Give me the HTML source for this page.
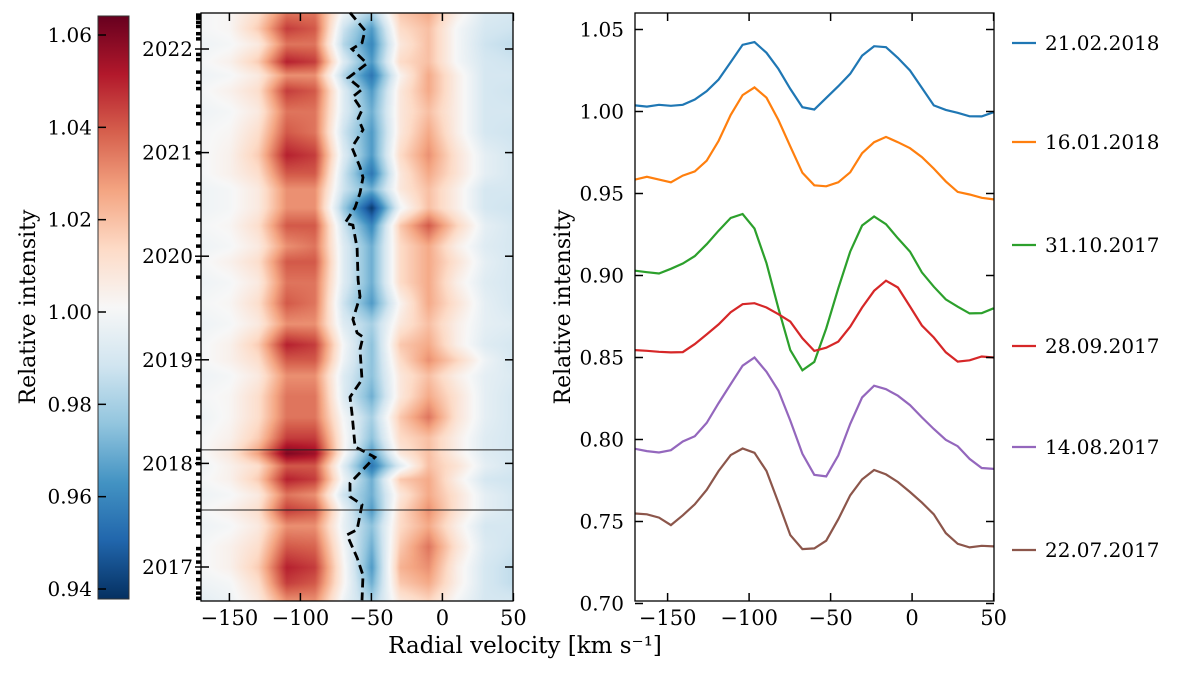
<!DOCTYPE html>
<html><head><meta charset="utf-8"><style>
body{margin:0;background:#fff;}
#wrap{position:relative;width:1200px;height:674px;overflow:hidden;font-family:"DejaVu Serif","Liberation Serif",serif;}
canvas{position:absolute;left:201px;top:13px;}
svg{position:absolute;left:0;top:0;}
text{font-family:"DejaVu Serif","Liberation Serif",serif;fill:#000;}
</style></head><body>
<div id="wrap">
<canvas id="heat" width="312" height="588"></canvas>
<svg id="svg" width="1200" height="674">
<defs><linearGradient id="cb" x1="0" y1="1" x2="0" y2="0">
<stop offset="0" stop-color="#053061"/><stop offset="0.1" stop-color="#2166ac"/><stop offset="0.2" stop-color="#4393c3"/><stop offset="0.3" stop-color="#92c5de"/><stop offset="0.4" stop-color="#d1e5f0"/><stop offset="0.5" stop-color="#f7f7f7"/><stop offset="0.6" stop-color="#fddbc7"/><stop offset="0.7" stop-color="#f4a582"/><stop offset="0.8" stop-color="#d6604d"/><stop offset="0.9" stop-color="#b2182b"/><stop offset="1" stop-color="#67001f"/></linearGradient></defs>
<g id="g"></g>
</svg>
</div>
<script>
// ---------- data ----------
const cbTicks=[0.94,0.96,0.98,1.00,1.02,1.04,1.06];
const yearTicks=[2017,2018,2019,2020,2021,2022];
const xTicks=[-150,-100,-50,0,50];
const rTicksY=[0.70,0.75,0.80,0.85,0.90,0.95,1.00,1.05];
const heatVel=[-170,-150,-130,-110,-90,-70,-50,-30,-10,10,30,50];
const heatTimes=[2016.68,2016.85,2017.0,2017.2,2017.4,2017.55,2017.7,2017.85,2017.98,2018.1,2018.25,2018.45,2018.65,2018.85,2019.0,2019.15,2019.35,2019.55,2019.75,2019.95,2020.1,2020.3,2020.47,2020.65,2020.8,2020.98,2021.2,2021.4,2021.6,2021.75,2021.88,2022.05,2022.2,2022.35];
const heatRows=[
[0.995,0.998,1.007,1.03,1.03,0.998,0.98,1.008,1.015,1.0,0.99,0.99],
[0.998,1.0,1.012,1.045,1.04,1.003,0.97,1.018,1.025,1.005,0.99,0.985],
[1.0,1.004,1.017,1.05,1.045,1.003,0.965,1.023,1.03,1.005,0.99,0.985],
[1.0,1.004,1.012,1.04,1.038,1.0,0.97,1.018,1.035,1.01,0.992,0.988],
[0.998,1.0,1.007,1.03,1.03,0.996,0.975,1.013,1.025,1.005,0.99,0.99],
[1.0,1.004,1.012,1.045,1.04,0.998,0.965,1.013,1.03,1.01,0.995,0.99],
[0.998,1.0,1.007,1.035,1.03,0.988,0.97,1.008,1.025,1.01,0.995,0.99],
[1.0,1.004,1.017,1.05,1.045,0.998,0.97,1.018,1.025,1.005,0.99,0.988],
[0.998,1.004,1.012,1.04,1.04,0.993,0.955,0.993,1.02,1.01,0.995,0.99],
[1.0,1.008,1.027,1.06,1.055,1.003,0.965,1.008,1.02,1.005,0.993,0.99],
[1.0,1.004,1.017,1.045,1.045,1.003,0.975,1.013,1.02,1.005,0.993,0.99],
[0.998,1.002,1.012,1.035,1.035,1.0,0.98,1.018,1.035,1.01,0.995,0.99],
[1.0,1.002,1.012,1.035,1.035,0.993,0.97,1.008,1.025,1.01,0.995,0.99],
[0.998,1.0,1.007,1.03,1.03,0.993,0.975,1.008,1.02,1.005,0.995,0.992],
[1.0,1.004,1.012,1.04,1.04,0.998,0.975,1.013,1.03,1.015,0.998,0.99],
[1.0,1.004,1.017,1.05,1.045,1.0,0.975,1.018,1.025,1.005,0.993,0.99],
[0.998,1.0,1.007,1.03,1.03,0.993,0.98,1.008,1.02,1.005,0.995,0.993],
[1.0,1.002,1.012,1.04,1.035,0.988,0.965,1.003,1.025,1.01,0.995,0.99],
[0.998,1.0,1.007,1.035,1.035,0.993,0.97,1.013,1.025,1.005,0.993,0.99],
[1.0,1.004,1.012,1.04,1.04,0.993,0.97,1.013,1.025,1.01,0.995,0.99],
[0.998,1.0,1.007,1.03,1.035,0.993,0.97,1.013,1.025,1.005,0.993,0.99],
[1.0,1.002,1.012,1.04,1.04,0.988,0.96,1.018,1.04,1.015,0.995,0.99],
[0.998,1.0,1.007,1.03,1.03,0.978,0.94,0.998,1.02,1.005,0.99,0.988],
[0.998,1.0,1.007,1.03,1.03,0.988,0.97,1.008,1.02,1.005,0.99,0.99],
[1.0,1.004,1.012,1.04,1.04,0.988,0.955,1.008,1.025,1.01,0.995,0.99],
[1.0,1.004,1.017,1.05,1.045,0.993,0.965,1.013,1.03,1.01,0.995,0.99],
[1.0,1.002,1.012,1.04,1.035,0.988,0.965,1.008,1.025,1.005,0.99,0.988],
[0.998,1.0,1.007,1.035,1.035,0.993,0.97,1.008,1.02,1.005,0.99,0.99],
[1.0,1.004,1.012,1.045,1.04,0.993,0.965,1.008,1.025,1.005,0.99,0.988],
[0.998,1.0,1.007,1.03,1.03,0.983,0.955,1.003,1.025,1.005,0.99,0.99],
[1.0,1.004,1.017,1.05,1.045,0.993,0.965,1.013,1.02,1.0,0.99,0.988],
[0.998,1.0,1.007,1.035,1.035,0.983,0.96,1.008,1.02,1.0,0.988,0.985],
[1.0,1.002,1.017,1.045,1.04,0.988,0.965,1.013,1.02,1.0,0.99,0.988],
[1.0,1.002,1.012,1.035,1.035,0.998,0.98,1.018,1.025,1.005,0.992,0.99]];
const minTimes=[2022.35,2022.18,2022.06,2022.0,2021.86,2021.72,2021.61,2021.54,2021.41,2021.33,2021.22,2021.05,2020.86,2020.76,2020.61,2020.47,2020.32,2020.30,2020.08,2019.77,2019.61,2019.39,2019.26,2019.22,2019.10,2018.81,2018.64,2018.49,2018.16,2018.06,2017.81,2017.68,2017.60,2017.36,2017.31,2017.09,2016.92,2016.68];
const minVel=[-65.1,-54.5,-56.6,-63.7,-53.1,-66.5,-56.6,-63.0,-56.6,-59.4,-55.9,-63.7,-58.0,-55.9,-58.0,-61.5,-68.6,-63.0,-60.1,-59.4,-58.0,-63.0,-60.1,-55.9,-58.0,-56.6,-65.1,-63.7,-61.5,-47.5,-65.1,-65.1,-56.6,-60.1,-67.2,-60.1,-55.9,-56.6];
const obsTimes=[2016.7,2016.75,2016.8,2016.88,2016.95,2017.05,2017.12,2017.18,2017.3,2017.42,2017.48,2017.55,2017.62,2017.7,2017.75,2017.82,2017.9,2018.0,2018.05,2018.13,2018.3,2018.45,2018.6,2018.75,2018.9,2019.05,2019.2,2019.3,2019.45,2019.6,2019.8,2019.95,2020.1,2020.2,2020.35,2020.5,2020.62,2020.7,2020.88,2021.0,2021.1,2021.28,2021.38,2021.45,2021.62,2021.68,2021.78,2021.9,2021.95,2022.1,2022.15,2022.22,2022.26,2022.3,2022.33];
const markTimes=[2018.13,2017.55];
const profVel=[-170,-162.7,-155.3,-148,-140.7,-133.3,-126,-118.7,-111.3,-104,-96.7,-89.3,-82,-74.7,-67.3,-60,-52.7,-45.3,-38,-30.7,-23.3,-16,-8.7,-1.3,6,13.3,20.7,28,35.3,42.7,50];
const dates=["21.02.2018","16.01.2018","31.10.2017","28.09.2017","14.08.2017","22.07.2017"];
const colors=["#1f77b4","#ff7f0e","#2ca02c","#d62728","#9467bd","#8c564b"];
const s0=[1.0037,1.003,1.0041,1.0035,1.0041,1.0073,1.0124,1.0195,1.0301,1.0407,1.0423,1.0358,1.026,1.0138,1.0026,1.0012,1.0083,1.0154,1.023,1.0341,1.0398,1.0392,1.0327,1.025,1.0144,1.0037,1.001,0.9992,0.9971,0.997,0.9996];
const s1=[0.9585,0.9602,0.9585,0.9568,0.9609,0.9635,0.97,0.9821,0.9979,1.01,1.0147,1.0084,0.9948,0.9787,0.9626,0.955,0.9544,0.9568,0.9629,0.9746,0.9813,0.9845,0.9813,0.9776,0.9722,0.9652,0.9574,0.951,0.9494,0.9474,0.9464];
const s2=[0.9029,0.902,0.9012,0.9041,0.9073,0.9118,0.9191,0.9273,0.9351,0.9375,0.9286,0.9075,0.88,0.8545,0.8422,0.8473,0.8677,0.8922,0.9146,0.9305,0.936,0.9313,0.9227,0.9146,0.9019,0.8932,0.8854,0.881,0.8769,0.8771,0.88];
const s3=[0.8545,0.8541,0.8535,0.8531,0.8533,0.8582,0.8641,0.8702,0.8776,0.8825,0.8831,0.8805,0.8764,0.8719,0.8617,0.854,0.856,0.8597,0.8688,0.8805,0.8907,0.8968,0.8927,0.8811,0.8695,0.8622,0.8532,0.8475,0.8483,0.8506,0.85];
const s4=[0.7943,0.7929,0.7921,0.7935,0.7988,0.802,0.8101,0.8222,0.8338,0.845,0.85,0.8413,0.8298,0.8115,0.7913,0.7785,0.7775,0.7903,0.8095,0.8257,0.8328,0.8307,0.8267,0.821,0.8135,0.8064,0.7998,0.7959,0.7882,0.7826,0.7821];
const s5=[0.7549,0.7544,0.7524,0.7478,0.7538,0.7605,0.7693,0.7808,0.7905,0.7945,0.7919,0.7808,0.7615,0.7417,0.7332,0.7336,0.7383,0.7514,0.766,0.7757,0.7814,0.7787,0.7741,0.768,0.7615,0.7544,0.7429,0.7364,0.7342,0.7352,0.7348];

// ---------- scales ----------
const xL=v=>201+(v+170)*1.42;
const tY=t=>49+(2022-t)*103.6;
const xR=v=>635+(v+170)*1.63;
const yR=s=>111.5+(1-s)*1640;
const cbY=v=>35+(1.06-v)*(554/0.12);
const VMIN=0.938,VMAX=1.064;
const NS="http://www.w3.org/2000/svg";
const g=document.getElementById('g');
function el(tag,attrs,txt){const e=document.createElementNS(NS,tag);for(const k in attrs)e.setAttribute(k,attrs[k]);if(txt!==undefined)e.textContent=txt;g.appendChild(e);return e;}

// ---------- heatmap ----------
const stops=[[5,48,97],[33,102,172],[67,147,195],[146,197,222],[209,229,240],[247,247,247],[253,219,199],[244,165,130],[214,96,77],[178,24,43],[103,0,31]];
function cmap(v){let t=(v-VMIN)/(VMAX-VMIN);t=Math.max(0,Math.min(1,t))*10;const i=Math.min(9,Math.floor(t)),f=t-i;const a=stops[i],b=stops[i+1];return [a[0]+(b[0]-a[0])*f,a[1]+(b[1]-a[1])*f,a[2]+(b[2]-a[2])*f];}
function interp(xs,ys,x){if(x<=xs[0])return ys[0];for(let i=1;i<xs.length;i++){if(x<=xs[i]){const f=(x-xs[i-1])/(xs[i]-xs[i-1]);return ys[i-1]+(ys[i]-ys[i-1])*f;}}return ys[ys.length-1];}
(function(){const c=document.getElementById('heat'),ctx=c.getContext('2d');const img=ctx.createImageData(312,588);
for(let py=0;py<588;py++){const t=2022-((py+13)-49)/103.6;
 let j=0;while(j<heatTimes.length-2&&heatTimes[j+1]<t)j++;
 let f=(t-heatTimes[j])/(heatTimes[j+1]-heatTimes[j]);f=Math.max(0,Math.min(1,f));
 for(let px=0;px<312;px++){const v=-170+px/1.42;
  const a=interp(heatVel,heatRows[j],v),b=interp(heatVel,heatRows[j+1],v);
  const col=cmap(a+(b-a)*f);const k=(py*312+px)*4;img.data[k]=col[0];img.data[k+1]=col[1];img.data[k+2]=col[2];img.data[k+3]=255;}}
ctx.putImageData(img,0,0);})();

// ---------- colorbar ----------
el('rect',{x:98,y:16,width:31,height:583,fill:'url(#cb)',stroke:'#333','stroke-width':1,});
cbTicks.forEach(v=>{const y=cbY(v);
 const l=el('line',{x1:98,x2:106,y1:y,y2:y,stroke:'#000','stroke-width':1.5});
 
 const t=el('text',{x:92,y:y+7,'text-anchor':'end','font-size':20},v.toFixed(2));
 });
el('text',{x:0,y:0,transform:'translate(35,307) rotate(-90)','text-anchor':'middle','font-size':22,},'Relative intensity');

// ---------- left panel ----------
const dpts=minTimes.map((t,i)=>xL(minVel[i]).toFixed(1)+','+tY(t).toFixed(1)).join(' ');
el('polyline',{points:dpts,fill:'none',stroke:'#000','stroke-width':2.8,'stroke-dasharray':'9,5',});
markTimes.forEach(t=>{const l=el('line',{x1:201,x2:513,y1:tY(t),y2:tY(t),stroke:'#222','stroke-width':1});
 });
el('rect',{x:201,y:13,width:312,height:588,fill:'none',stroke:'#000','stroke-width':1.3,});
obsTimes.forEach(t=>{const r=el('rect',{x:196,y:tY(t)-1.5,width:5,height:3.5,fill:'#000'});
 });
yearTicks.forEach(yr=>{const y=tY(yr);
 el('line',{x1:201,x2:209,y1:y,y2:y,stroke:'#000','stroke-width':1.5});
 el('line',{x1:505,x2:513,y1:y,y2:y,stroke:'#000','stroke-width':1.5});
 el('line',{x1:195,x2:201,y1:y,y2:y,stroke:'#000','stroke-width':1.5});
 const t=el('text',{x:193,y:y+7,'text-anchor':'end','font-size':20},String(yr));
 });
xTicks.forEach(v=>{const x=xL(v);
 el('line',{x1:x,x2:x,y1:601,y2:593,stroke:'#000','stroke-width':1.5});
 el('line',{x1:x,x2:x,y1:13,y2:21,stroke:'#000','stroke-width':1.5});
 const t=el('text',{x:x,y:625,'text-anchor':'middle','font-size':21},v<0?'\u2212'+(-v):String(v));
 });

// ---------- right panel ----------
const series=[s0,s1,s2,s3,s4,s5];
series.forEach((s,i)=>{const pts=s.map((v,k)=>xR(profVel[k]).toFixed(1)+','+yR(v).toFixed(1)).join(' ');
 const p=el('polyline',{points:pts,fill:'none',stroke:colors[i],'stroke-width':2.2});
 });
el('rect',{x:635,y:13,width:359,height:588,fill:'none',stroke:'#000','stroke-width':1.3,});
xTicks.forEach(v=>{const x=xR(v);
 el('line',{x1:x,x2:x,y1:601,y2:593,stroke:'#000','stroke-width':1.5});
 el('line',{x1:x,x2:x,y1:13,y2:21,stroke:'#000','stroke-width':1.5});
 const t=el('text',{x:x,y:625,'text-anchor':'middle','font-size':21},v<0?'\u2212'+(-v):String(v));
 });
rTicksY.forEach(v=>{const y=yR(v);
 el('line',{x1:635,x2:643,y1:y,y2:y,stroke:'#000','stroke-width':1.5});
 el('line',{x1:986,x2:994,y1:y,y2:y,stroke:'#000','stroke-width':1.5});
 const t=el('text',{x:624,y:y+7,'text-anchor':'end','font-size':20},v.toFixed(2));
 });
el('text',{x:0,y:0,transform:'translate(570,307) rotate(-90)','text-anchor':'middle','font-size':22,},'Relative intensity');
el('text',{x:525,y:653,'text-anchor':'middle','font-size':23,},'Radial velocity [km s\u207B\u00B9]');

// legend
const legY=[43,142,245,346,447,550];
dates.forEach((d,i)=>{const y=legY[i];
 const l=el('line',{x1:1012,x2:1036,y1:y,y2:y,stroke:colors[i],'stroke-width':2.2});
 
 const t=el('text',{x:1045,y:y+7,'font-size':20},d);
 });
</script>
</body></html>
